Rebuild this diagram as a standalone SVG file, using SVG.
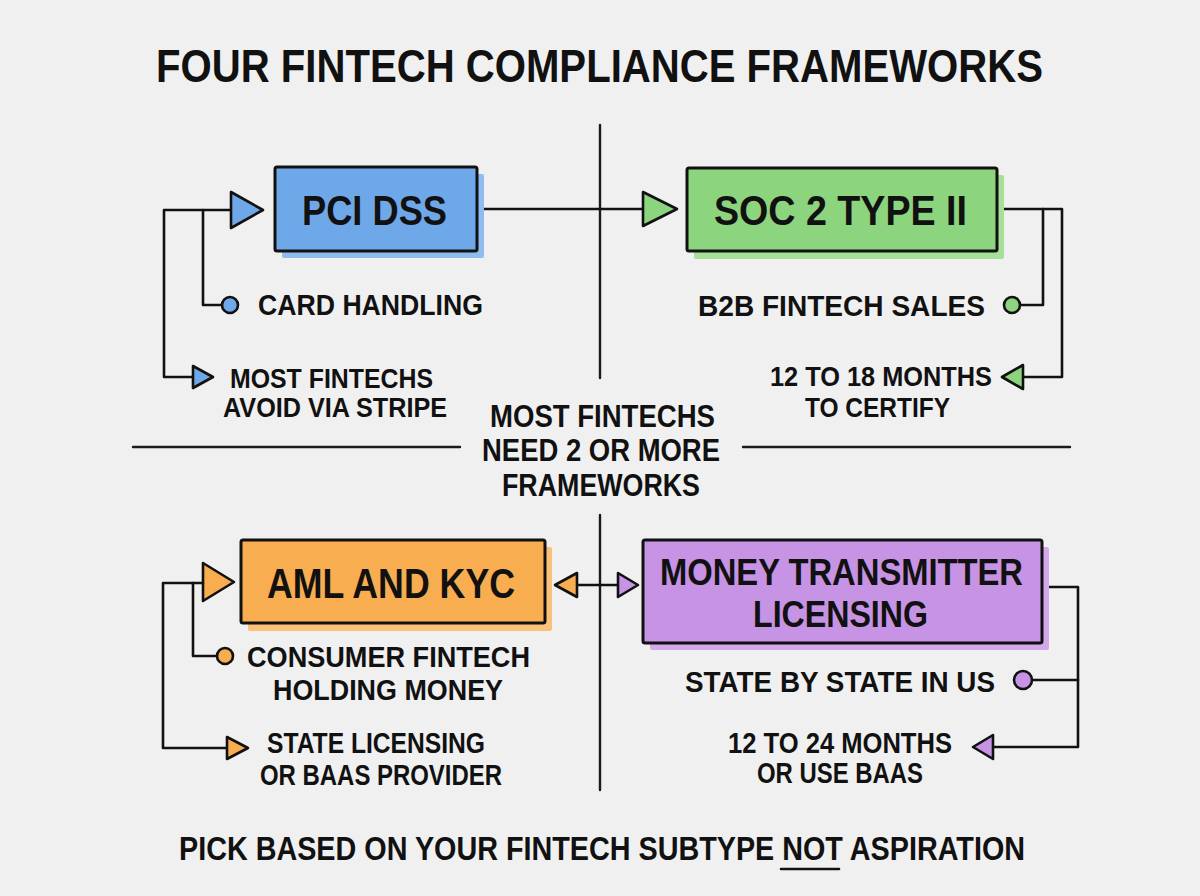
<svg xmlns="http://www.w3.org/2000/svg" width="1200" height="896" viewBox="0 0 1200 896">
<style>
text{font-family:"Liberation Sans",Arial,sans-serif;font-weight:bold;fill:#111;}
.ttl{font-size:46px;}
.box{font-size:43px;}
.lbl{font-size:29px;}
.sm{font-size:27px;}
.mid{font-size:32px;}
.ln{fill:none;stroke:#111;stroke-width:2.6;stroke-linejoin:round;stroke-linecap:round;}
.dv{fill:none;stroke:#1a1a1a;stroke-width:2.4;stroke-linecap:round;}
.bx{stroke:#111;stroke-width:3;}
.tri{stroke:#111;stroke-width:2.6;stroke-linejoin:round;}
.blue{fill:#6fa8e8;} .blueS{fill:#8fbcef;}
.green{fill:#8dd47e;} .greenS{fill:#a6df98;}
.orange{fill:#f7ad50;} .orangeS{fill:#f9c17a;}
.purple{fill:#c793e5;} .purpleS{fill:#d3a9ec;}
</style>
<rect width="1200" height="896" fill="#f0f0f0"/>
<text class="ttl" x="156" y="82" textLength="887" lengthAdjust="spacingAndGlyphs">FOUR FINTECH COMPLIANCE FRAMEWORKS</text>

<g id="dividers">
<path class="dv" d="M600,125 V378 M600,515 V790 M133,447 H460 M743,447 H1070"/>
</g>

<g id="connectors">
<!-- PCI DSS -->
<path class="ln" d="M231,210 H164 V377 H193"/>
<polygon class="tri blue" points="193,366 213,377 193,388"/>
<polygon class="tri blue" points="231,192 263,210 231,228"/>
<path class="ln" d="M203,210 V305 H222"/>
<circle class="tri blue" cx="230" cy="305" r="8"/>
<!-- PCI to SOC -->
<path class="ln" d="M484,209 H643"/>
<polygon class="tri green" points="643,192 677,209 643,226"/>
<!-- SOC 2 -->
<path class="ln" d="M998,209 H1062 V377 H1023"/>
<polygon class="tri green" points="1023,365 1002,377 1023,389"/>
<path class="ln" d="M1043,209 V305 H1020"/>
<circle class="tri green" cx="1012" cy="305" r="8"/>
<!-- AML -->
<polygon class="tri orange" points="203,563 234,582 203,601"/>
<path class="ln" d="M203,583 H163 V748 H227"/>
<polygon class="tri orange" points="227,737 248,748 227,759"/>
<path class="ln" d="M193,583 V656 H217"/>
<circle class="tri orange" cx="225" cy="656" r="8"/>
<!-- AML <-> Money -->
<path class="ln" d="M577,585 H618"/>
<polygon class="tri orange" points="577,573 555,585 577,597"/>
<polygon class="tri purple" points="618,573 638,585 618,597"/>
<!-- Money -->
<path class="ln" d="M1042,587 H1078 V747 H993"/>
<polygon class="tri purple" points="993,735 973,747 993,759"/>
<path class="ln" d="M1032,680 H1078"/>
<circle class="tri purple" cx="1023" cy="680" r="9"/>
</g>

<g id="pci">
<rect class="blueS" x="282" y="174" width="202" height="84" rx="2"/>
<rect class="bx blue" x="275" y="167" width="202" height="84" rx="2"/>
<text class="box" x="302" y="225" textLength="145" lengthAdjust="spacingAndGlyphs">PCI DSS</text>
<text class="lbl" x="258" y="315" textLength="225" lengthAdjust="spacingAndGlyphs">CARD HANDLING</text>
<text class="sm" x="230" y="388" textLength="203" lengthAdjust="spacingAndGlyphs">MOST FINTECHS</text>
<text class="sm" x="223" y="417" textLength="224" lengthAdjust="spacingAndGlyphs">AVOID VIA STRIPE</text>
</g>

<g id="soc2">
<rect class="greenS" x="694" y="175" width="310" height="84" rx="2"/>
<rect class="bx green" x="687" y="168" width="310" height="83" rx="2"/>
<text class="box" x="714" y="225" textLength="253" lengthAdjust="spacingAndGlyphs">SOC 2 TYPE II</text>
<text class="lbl" x="698" y="316" textLength="287" lengthAdjust="spacingAndGlyphs">B2B FINTECH SALES</text>
<text class="sm" x="770" y="386" textLength="222" lengthAdjust="spacingAndGlyphs">12 TO 18 MONTHS</text>
<text class="sm" x="805" y="417" textLength="145" lengthAdjust="spacingAndGlyphs">TO CERTIFY</text>
</g>

<g id="center-note">
<text class="mid" x="490" y="427" textLength="225" lengthAdjust="spacingAndGlyphs">MOST FINTECHS</text>
<text class="mid" x="482" y="461" textLength="238" lengthAdjust="spacingAndGlyphs">NEED 2 OR MORE</text>
<text class="mid" x="502" y="496" textLength="198" lengthAdjust="spacingAndGlyphs">FRAMEWORKS</text>
</g>

<g id="aml">
<rect class="orangeS" x="248" y="547" width="304" height="84" rx="2"/>
<rect class="bx orange" x="241" y="540" width="304" height="83" rx="2"/>
<text class="box" x="267" y="598" textLength="248" lengthAdjust="spacingAndGlyphs" style="font-size:42px">AML AND KYC</text>
<text class="lbl" x="247" y="667" textLength="283" lengthAdjust="spacingAndGlyphs">CONSUMER FINTECH</text>
<text class="lbl" x="273" y="700" textLength="230" lengthAdjust="spacingAndGlyphs">HOLDING MONEY</text>
<text class="lbl" x="267" y="753" textLength="218" lengthAdjust="spacingAndGlyphs">STATE LICENSING</text>
<text class="lbl" x="260" y="785" textLength="242" lengthAdjust="spacingAndGlyphs">OR BAAS PROVIDER</text>
</g>

<g id="money">
<rect class="purpleS" x="650" y="547" width="399" height="103" rx="2"/>
<rect class="bx purple" x="643" y="540" width="399" height="103" rx="2"/>
<text class="box" x="660" y="585" textLength="363" lengthAdjust="spacingAndGlyphs" style="font-size:37px">MONEY TRANSMITTER</text>
<text class="box" x="753" y="627" textLength="175" lengthAdjust="spacingAndGlyphs" style="font-size:37px">LICENSING</text>
<text class="lbl" x="685" y="692" textLength="310" lengthAdjust="spacingAndGlyphs">STATE BY STATE IN US</text>
<text class="lbl" x="728" y="753" textLength="224" lengthAdjust="spacingAndGlyphs">12 TO 24 MONTHS</text>
<text class="lbl" x="757" y="783" textLength="166" lengthAdjust="spacingAndGlyphs">OR USE BAAS</text>
</g>

<g id="footer">
<text x="179" y="860" textLength="846" lengthAdjust="spacingAndGlyphs" style="font-size:34px">PICK BASED ON YOUR FINTECH SUBTYPE NOT ASPIRATION</text>
<path class="ln" d="M781,869 H839"/>
</g>
</svg>
